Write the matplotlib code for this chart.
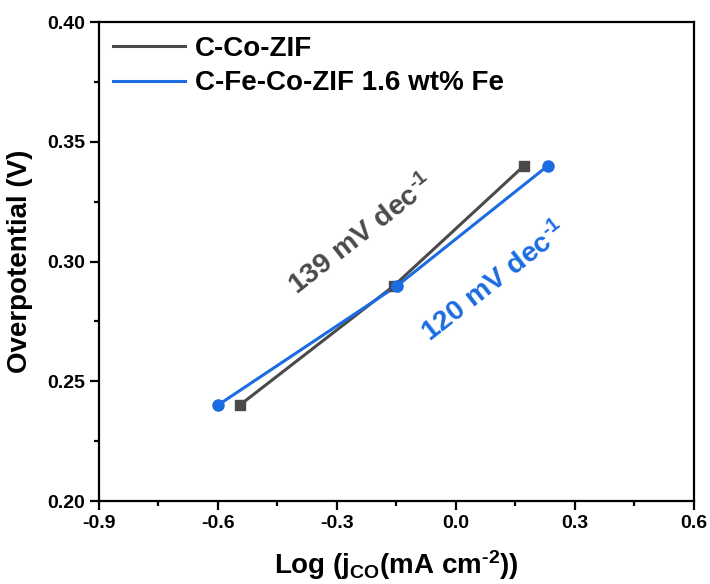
"""
Tafel plot: overpotential vs log current density for C-Co-ZIF and
C-Fe-Co-ZIF (1.6 wt% Fe).

Output:
    out.png
"""

import matplotlib

matplotlib.use("Agg")
import matplotlib.pyplot as plt
from matplotlib.ticker import MultipleLocator

plt.rcParams["font.family"] = ["Liberation Sans", "DejaVu Sans"]
plt.rcParams["font.weight"] = "bold"
plt.rcParams["mathtext.fontset"] = "custom"
plt.rcParams["mathtext.rm"] = "Liberation Sans:bold"
plt.rcParams["mathtext.bf"] = "Liberation Sans:bold"
plt.rcParams["mathtext.default"] = "bf"

# data
co_log_j = [-0.545, -0.155, 0.172]
co_eta = [0.24, 0.29, 0.34]
feco_log_j = [-0.600, -0.147, 0.232]
feco_eta = [0.24, 0.29, 0.34]

labels = ["C-Co-ZIF", "C-Fe-Co-ZIF 1.6 wt% Fe"]
# short hyphen in the superscripts, like the original figure
slope_labels = ["139 mV dec$^{\u20101}$", "120 mV dec$^{\u20101}$"]
x_label = "Log (j$_{CO}$(mA cm$^{\u20102}$))"
y_label = "Overpotential (V)"

x_ticks = [-0.9, -0.6, -0.3, 0.0, 0.3, 0.6]
y_ticks = [0.20, 0.25, 0.30, 0.35, 0.40]

GRAY = "#4a4a4a"
BLUE = "#1a6ce0"

fig = plt.figure(figsize=(7.1, 5.84), dpi=100)
ax = fig.add_axes([0.139, 0.142, 0.838, 0.820])

# lines for the legend, markers drawn separately
ax.plot(co_log_j, co_eta, color=GRAY, lw=2.2, label=labels[0])
ax.plot(feco_log_j, feco_eta, color=BLUE, lw=2.2, label=labels[1])
ax.plot(co_log_j, co_eta, ls="none", marker="s", ms=7, color=GRAY)
ax.plot(feco_log_j, feco_eta, ls="none", marker="o", ms=8, color=BLUE)

ax.text(-0.238, 0.311, slope_labels[0], color=GRAY, fontsize=20.5,
        fontweight="bold", rotation=38, ha="center", va="center")
ax.text(0.098, 0.2915, slope_labels[1], color=BLUE, fontsize=20.5,
        fontweight="bold", rotation=38, ha="center", va="center")

ax.set_xlim(-0.9, 0.6)
ax.set_ylim(0.20, 0.40)
ax.set_xticks(x_ticks)
ax.set_yticks(y_ticks)
ax.set_xticklabels([f"{v:.1f}" for v in x_ticks])
ax.set_yticklabels([f"{v:.2f}" for v in y_ticks])
ax.xaxis.set_minor_locator(MultipleLocator(0.15))
ax.yaxis.set_minor_locator(MultipleLocator(0.025))
ax.tick_params(which="both", direction="out", top=False, right=False,
               labelsize=14, width=1.6)
ax.tick_params(which="major", length=6.5)
ax.tick_params(which="minor", length=3.5)
for label in ax.get_xticklabels() + ax.get_yticklabels():
    label.set_fontweight("bold")
for spine in ax.spines.values():
    spine.set_linewidth(1.6)

ax.set_xlabel(x_label, fontsize=20, fontweight="bold", labelpad=12)
ax.set_ylabel(y_label, fontsize=20, fontweight="bold", labelpad=10)

leg = ax.legend(loc="upper left", frameon=False, fontsize=20,
                handlelength=2.6, borderaxespad=0.1, labelspacing=0.3,
                handletextpad=0.35)
for text in leg.get_texts():
    text.set_fontweight("bold")

fig.savefig("out.png", dpi=100)
